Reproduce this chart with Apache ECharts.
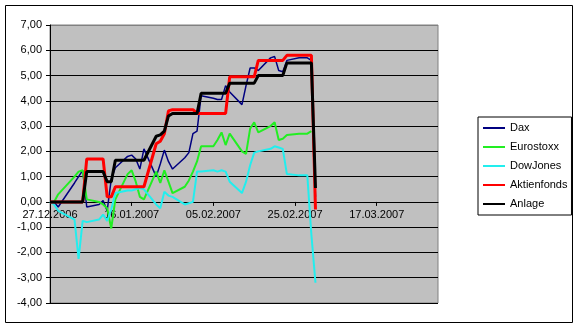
<!DOCTYPE html>
<html>
<head>
<meta charset="utf-8">
<script src="https://cdn.jsdelivr.net/npm/echarts@6/dist/echarts.min.js"></script>
<style>html,body{margin:0;padding:0;background:#fff}#c{width:580px;height:328px}</style>
</head>
<body>
<div id="c"></div>
<script>
const dates = ['27.12.2006','28.12.2006','29.12.2006','02.01.2007','03.01.2007','04.01.2007','05.01.2007',
 '08.01.2007','09.01.2007','10.01.2007','11.01.2007','12.01.2007','15.01.2007','16.01.2007','17.01.2007',
 '18.01.2007','19.01.2007','22.01.2007','23.01.2007','24.01.2007','25.01.2007','26.01.2007','29.01.2007',
 '30.01.2007','31.01.2007','01.02.2007','02.02.2007','05.02.2007','06.02.2007','07.02.2007','08.02.2007',
 '09.02.2007','12.02.2007','13.02.2007','14.02.2007','15.02.2007','16.02.2007','19.02.2007','20.02.2007',
 '21.02.2007','22.02.2007','23.02.2007','26.02.2007','27.02.2007','28.02.2007','01.03.2007','02.03.2007'];

const dax = [0,0,-0.2,0.75,1.0,1.25,-0.2,-0.1,0.05,-0.35,0.9,1.35,1.8,1.85,1.7,1.3,2.1,1.0,1.5,2.05,1.6,1.3,1.75,1.95,2.7,2.8,
 4.2,4.1,4.05,4.05,4.6,4.35,3.85,4.6,5.3,5.3,5.2,5.7,5.75,5.2,5.15,5.6,5.7,5.7,5.7,5.6,0.2];
const eurostoxx = [0,0,0.3,1.0,1.2,1.25,0.1,0.0,-0.1,-0.25,-1.05,0.1,1.1,1.25,0.8,0.2,0.1,1.2,0.75,1.25,0.8,0.35,0.6,0.85,1.2,1.6,
 2.2,2.2,2.45,2.75,2.25,2.7,2.0,1.9,2.9,3.15,2.75,3.0,3.15,2.45,2.5,2.65,2.7,2.7,2.7,2.8,null];
const dowjones = [0,-0.1,-0.35,-0.7,-2.25,-0.75,-0.8,-0.7,-0.5,-0.75,-0.3,0.35,0.45,0.45,0.5,0.55,0.5,-0.1,-0.25,0.4,0.25,0.2,-0.1,-0.05,0.0,1.2,
 1.2,1.25,1.2,1.25,1.2,0.8,0.35,0.8,1.45,1.95,2.0,2.1,2.2,2.15,2.1,1.1,1.05,1.05,1.05,-1.3,-3.2];
const aktienfonds = [0,0,0,0,0,0,1.7,1.7,1.7,0.2,0.2,0.6,0.6,0.6,0.6,0.6,0.6,2.3,2.4,2.7,3.6,3.65,3.65,3.65,3.65,3.5,
 3.5,3.5,3.5,3.5,3.5,4.95,4.95,4.95,4.95,4.95,5.6,5.6,5.6,5.6,5.6,5.8,5.8,5.8,5.8,5.8,-0.3];
const anlage = [0,0,0,0,0,0,1.2,1.2,1.2,0.8,0.8,1.65,1.65,1.65,1.65,1.65,1.65,2.6,2.65,2.8,3.4,3.5,3.5,3.5,3.5,3.5,
 4.3,4.3,4.3,4.3,4.3,4.7,4.7,4.7,4.7,4.7,5.0,5.0,5.0,5.0,5.0,5.5,5.5,5.5,5.5,5.5,0.55];

const xTickLabels = ['27.12.2006','16.01.2007','05.02.2007','25.02.2007','17.03.2007'];
const xStart = '27.12.2006', xEnd = '01.04.2007';
const yTicks = [-4,-3,-2,-1,0,1,2,3,4,5,6,7];

const seriesNames = ['Dax','Eurostoxx','DowJones','Aktienfonds','Anlage'];

const BASE = Date.UTC(2006, 11, 27);
function dayOf(s){ const p = s.split('.').map(Number); return Math.round((Date.UTC(p[2], p[1]-1, p[0]) - BASE) / 86400000); }
function pad(n){ return (n < 10 ? '0' : '') + n; }
function fmtDay(d){ const dt = new Date(BASE + d*86400000); return pad(dt.getUTCDate()) + '.' + pad(dt.getUTCMonth()+1) + '.' + dt.getUTCFullYear(); }
function pts(vals){ return dates.map((d,i) => [dayOf(d), vals[i]]); }

const FONT = 'Liberation Sans, Arial, sans-serif';
const styles = [
  {color:'#000080', width:1.5},
  {color:'#22EE22', width:2},
  {color:'#22EEEE', width:2},
  {color:'#FF0000', width:3},
  {color:'#000000', width:3}
];
const allVals = [dax, eurostoxx, dowjones, aktienfonds, anlage];

const GRID = {left: 50, top: 25, width: 388, height: 278};
const yMin = yTicks[0], yMax = yTicks[yTicks.length-1];
const zeroOffset = -((0 - yMin) / (yMax - yMin)) * GRID.height;

const chart = echarts.init(document.getElementById('c'), null, {renderer:'canvas'});
const gridColors = yTicks.map((v,i) => i === yTicks.length-1 ? '#808080' : '#000000');

chart.setOption({
  animation: false,
  backgroundColor: '#ffffff',
  textStyle: {fontFamily: FONT},
  grid: Object.assign({show: true, backgroundColor: '#C0C0C0', borderColor: '#808080', borderWidth: 1}, GRID),
  xAxis: {
    type: 'value', min: dayOf(xStart), max: dayOf(xEnd), interval: 20,
    position: 'bottom', offset: zeroOffset,
    axisLine: {onZero: false, lineStyle: {color: '#000', width: 1}},
    axisTick: {show: true, inside: false, length: 4, lineStyle: {color: '#000'}, customValues: xTickLabels.map(dayOf)},
    axisLabel: {color: '#000', fontSize: 11, fontFamily: FONT, margin: 8, customValues: xTickLabels.map(dayOf), formatter: v => fmtDay(v)},
    splitLine: {show: false}
  },
  yAxis: {
    type: 'value', min: yMin, max: yMax, interval: 1,
    axisLine: {show: true, onZero: false, lineStyle: {color: '#000', width: 1}},
    axisTick: {show: true, inside: false, length: 4, lineStyle: {color: '#000'}},
    axisLabel: {color: '#000', fontSize: 11, fontFamily: FONT, margin: 8, formatter: v => v.toFixed(2).replace('.', ',')},
    splitLine: {show: true, lineStyle: {color: gridColors, width: 1}}
  },
  legend: {
    orient: 'vertical', left: 478, top: 117,
    padding: [4, 4, 4, 4], itemWidth: 22, itemHeight: 14, itemGap: 5,
    borderColor: '#000', borderWidth: 1, backgroundColor: '#fff',
    itemStyle: {opacity: 0, borderWidth: 0},
    textStyle: {fontFamily: FONT, fontSize: 11, color: '#000', lineHeight: 14},
    data: seriesNames
  },
  graphic: [{type: 'rect', shape: {x: 5.5, y: 5.5, width: 567, height: 317}, style: {fill: 'none', stroke: '#000', lineWidth: 1}, silent: true}],
  series: seriesNames.map((n, i) => ({
    name: n, type: 'line', symbol: 'none', showSymbol: false,
    data: pts(allVals[i]),
    lineStyle: {color: styles[i].color, width: styles[i].width},
    itemStyle: {color: styles[i].color},
    connectNulls: false, z: 2 + i
  }))
});
</script>
</body>
</html>
